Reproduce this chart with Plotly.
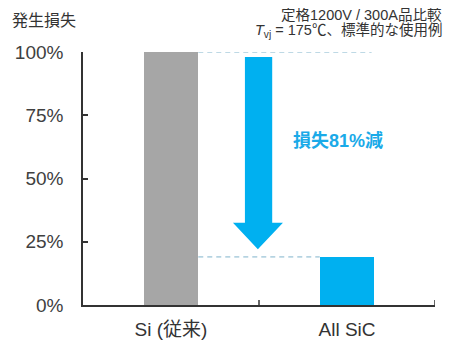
import plotly.graph_objects as go

categories = ["Si (従来)", "All SiC"]
loss_values = [100, 19]
bar_colors = ["#A6A6A6", "#00B0F0"]
y_tickvals = [0, 25, 50, 75, 100]
y_ticktext = ["0%", "25%", "50%", "75%", "100%"]
reduction_label = "損失81%減"
y_title = "発生損失"
note_lines = ["定格1200V / 300A品比較", "<i>T</i><sub>vj</sub> = 175℃、標準的な使用例"]

FONT = "Liberation Sans, Arial, Noto Sans CJK JP, sans-serif"
BAR_W = 0.31
PAGE_PAD = 8  # default body margin of the html page

fig = go.Figure()
fig.add_trace(go.Bar(x=[0, 1], y=loss_values, width=BAR_W, marker=dict(color=bar_colors, line=dict(width=0)),
                     hoverinfo="skip"))

half = BAR_W / 2
dash_col = "#7FB3CC"
# dashed reference lines
fig.add_shape(type="line", xref="x", yref="y", x0=0 + half, x1=1.14, y0=loss_values[0], y1=loss_values[0],
              line=dict(color=dash_col, width=1, dash="5px,4px"), layer="below")
fig.add_shape(type="line", xref="x", yref="y", x0=0 + half, x1=1 - half, y0=loss_values[1], y1=loss_values[1],
              line=dict(color=dash_col, width=1, dash="5px,4px"), layer="below")

# arrow
top = loss_values[0] - 2
tip = loss_values[1] + 3
head = tip + 10.5
sx0, sx1 = 0.42, 0.575
hx0, hx1 = 0.352, 0.636
cx = 0.4935
path = (f"M {sx0},{top} L {sx1},{top} L {sx1},{head} L {hx1},{head} L {cx},{tip} "
        f"L {hx0},{head} L {sx0},{head} Z")
fig.add_shape(type="path", xref="x", yref="y", path=path, fillcolor="#00B0F0", line=dict(width=0))

fig.add_annotation(x=0.95, y=65, xref="x", yref="y", text=f"<b>{reduction_label}</b>", showarrow=False,
                   font=dict(size=18, color="#1AAAE8", family=FONT), xanchor="center", yanchor="middle")

fig.add_annotation(x=-0.208, y=1.126, xref="paper", yref="paper", text=y_title, showarrow=False,
                   font=dict(size=16, color="#333333", family=FONT), xanchor="left", yanchor="middle")
fig.add_annotation(x=1.025, y=1.146, xref="paper", yref="paper", text=note_lines[0], showarrow=False,
                   font=dict(size=14.5, color="#333333", family=FONT), xanchor="right", yanchor="middle")
fig.add_annotation(x=1.025, y=1.083, xref="paper", yref="paper", text=note_lines[1], showarrow=False,
                   font=dict(size=14.5, color="#333333", family=FONT), xanchor="right", yanchor="middle")

fig.update_layout(
    width=454 - PAGE_PAD, height=357 - PAGE_PAD,
    margin=dict(l=83 - PAGE_PAD, r=19, t=52 - PAGE_PAD, b=52, autoexpand=False),
    paper_bgcolor="white", plot_bgcolor="white",
    showlegend=False, bargap=0,
    font=dict(family=FONT, color="#404040"),
)
fig.update_xaxes(
    type="linear", range=[-0.5, 1.5], tickvals=[0, 1], ticktext=categories, automargin=False,
    showgrid=False, zeroline=False, showline=True, linecolor="#333333", linewidth=1.5,
    ticks="", tickfont=dict(size=19, color="#333333"), ticklabelstandoff=6,
)
fig.update_yaxes(
    range=[0, 100], tickvals=y_tickvals, ticktext=y_ticktext, automargin=False,
    showgrid=False, zeroline=False, showline=True, linecolor="#333333", linewidth=1.5,
    ticks="inside", ticklen=5, tickcolor="#333333", tickwidth=1.5,
    tickfont=dict(size=19, color="#404040"), ticklabelstandoff=14,
)
# category boundary ticks on x axis
for bx in [0.5, 1.5]:
    fig.add_shape(type="line", xref="x", yref="paper", x0=bx, x1=bx, y0=0, y1=0.02,
                  line=dict(color="#333333", width=1.5))

fig.write_html("out.html")
